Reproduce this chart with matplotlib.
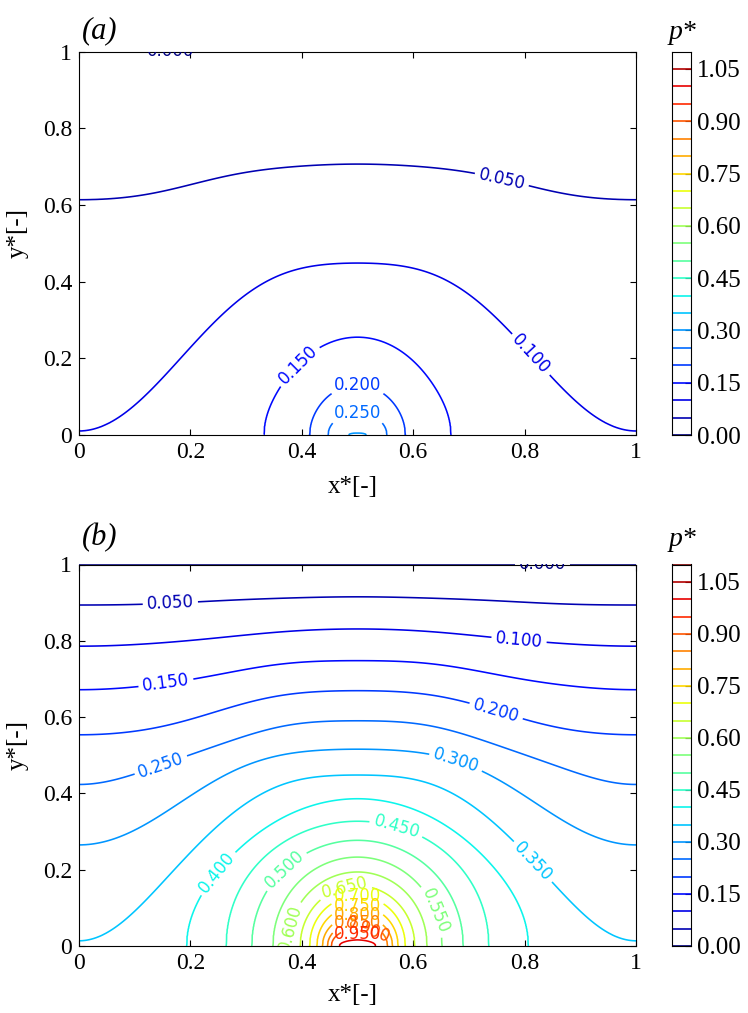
"""Dimensionless pressure p* contours for the two cases (a) and (b)."""

import matplotlib

matplotlib.use("Agg")

import matplotlib.pyplot as plt
import numpy as np
from matplotlib.colors import Normalize

SERIF = ["Liberation Serif", "DejaVu Serif"]

plt.rcParams["font.family"] = ["DejaVu Sans"]

# contour levels shared by both panels and both colour bars
levels = [round(0.05 * i, 2) for i in range(23)]
cbar_ticks = [0.0, 0.15, 0.30, 0.45, 0.60, 0.75, 0.90, 1.05]
axis_ticks = [0.0, 0.2, 0.4, 0.6, 0.8, 1.0]

# columns where the open contours were read (left half, fields are symmetric)
nodes_x = [0.0, 0.05, 0.10, 0.15, 0.20, 0.25, 0.30, 0.35, 0.40, 0.45, 0.50]

# ---- panel (a) ----
a_open_levels = [0.05, 0.10]
a_open_heights = [
    [0.614, 0.616, 0.621, 0.636, 0.654, 0.670, 0.684, 0.695, 0.702, 0.705, 0.706],
    [0.009, 0.030, 0.078, 0.148, 0.228, 0.305, 0.366, 0.410, 0.435, 0.446, 0.448],
]
# closed rings around the source at (0.5, 0): bottom half width, 45 deg radius, top
a_ring_levels = [0.15, 0.20, 0.25, 0.30]
a_ring_halfwidth = [0.168, 0.086, 0.053, 0.016]
a_ring_diag = [0.190, 0.100, 0.055, 0.007]
a_ring_height = [0.255, 0.130, 0.058, 0.005]
a_peak = 0.305
a_corner = 0.101
a_label_levels = [0.0, 0.05, 0.10, 0.15, 0.20, 0.25]
a_label_xy = [(0.165, 1.0), (0.758, 0.66), (0.814, 0.213), (0.39, 0.187),
              (0.5, 0.13), (0.5, 0.055)]

# ---- panel (b) ----
b_open_levels = [0.05, 0.10, 0.15, 0.20, 0.25, 0.30, 0.35]
b_open_heights = [
    [0.894, 0.894, 0.895, 0.898, 0.901, 0.905, 0.908, 0.911, 0.913, 0.915, 0.915],
    [0.786, 0.787, 0.790, 0.795, 0.801, 0.808, 0.815, 0.822, 0.827, 0.830, 0.831],
    [0.672, 0.674, 0.678, 0.688, 0.699, 0.711, 0.725, 0.737, 0.744, 0.747, 0.748],
    [0.554, 0.556, 0.562, 0.576, 0.595, 0.616, 0.636, 0.654, 0.664, 0.668, 0.669],
    [0.423, 0.431, 0.452, 0.476, 0.500, 0.527, 0.552, 0.571, 0.583, 0.589, 0.591],
    [0.266, 0.275, 0.302, 0.347, 0.395, 0.437, 0.473, 0.497, 0.509, 0.514, 0.516],
    [0.011, 0.037, 0.093, 0.166, 0.243, 0.317, 0.375, 0.414, 0.436, 0.446, 0.449],
]
b_ring_levels = [0.40, 0.45, 0.50, 0.55, 0.60, 0.65, 0.70, 0.75, 0.80, 0.85, 0.90, 0.95, 1.00]
b_ring_halfwidth = [0.307, 0.236, 0.190, 0.152, 0.125, 0.103, 0.086, 0.073, 0.063,
                    0.054, 0.047, 0.040, 0.033]
b_ring_diag = [0.325, 0.272, 0.222, 0.180, 0.149, 0.122, 0.102, 0.085, 0.070,
               0.057, 0.046, 0.035, 0.020]
b_ring_height = [0.386, 0.327, 0.277, 0.233, 0.194, 0.158, 0.131, 0.105, 0.080,
                 0.061, 0.045, 0.031, 0.016]
b_peak = 1.03
b_corner = 0.352
b_label_levels = [0.0, 0.05, 0.10, 0.15, 0.20, 0.25, 0.30, 0.35, 0.40, 0.45,
                  0.50, 0.55, 0.60, 0.65, 0.70, 0.75, 0.80, 0.85, 0.90, 0.95]
b_label_xy = [(0.832, 1.0), (0.164, 0.90), (0.79, 0.805), (0.156, 0.693),
              (0.749, 0.617), (0.149, 0.466), (0.673, 0.466), (0.816, 0.222),
              (0.252, 0.187), (0.57, 0.312), (0.371, 0.196), (0.637, 0.091),
              (0.381, 0.048), (0.477, 0.152), (0.5, 0.128), (0.5, 0.103),
              (0.5, 0.078), (0.5, 0.06), (0.52, 0.045), (0.5, 0.03)]

grid_x = np.linspace(0.0, 1.0, 1001)
grid_y = np.linspace(0.0, 1.01, 1516)

cmap = plt.get_cmap("jet")
norm = Normalize(vmin=0.0, vmax=1.1)


def _open_heights(heights):
    """Smooth even cosine fit through the read heights (zero slope at walls)."""
    n = np.arange(5)
    basis = np.cos(2 * np.pi * np.outer(nodes_x, n))
    coef = np.linalg.lstsq(basis, np.asarray(heights), rcond=None)[0]
    return np.cos(2 * np.pi * np.outer(grid_x, n)) @ coef


def _ring_profile(halfwidth, diag, height):
    theta = np.linspace(0.0, np.pi / 2, 800)
    s = np.sin(theta) ** 2
    inv = ((1 - 2 * s) * (1 - s) / halfwidth ** 2
           + 4 * s * (1 - s) / diag ** 2
           + s * (2 * s - 1) / height ** 2)
    r = 1.0 / np.sqrt(inv)
    return (r * np.cos(theta))[::-1], (r * np.sin(theta))[::-1]


def _build_field(open_levels, open_heights, ring_levels, ring_b, ring_d, ring_h,
                 peak, corner):
    dx = np.abs(grid_x - 0.5)
    open_y = [np.clip(_open_heights(h), 0.002, 0.995) for h in open_heights]
    rings = [_ring_profile(b, d, h) for b, d, h in zip(ring_b, ring_d, ring_h)]
    bottom = np.interp(dx, [0.0, *ring_b[::-1], 0.5],
                       [peak, *ring_levels[::-1], corner])

    field = np.empty((grid_y.size, grid_x.size))
    for j in range(grid_x.size):
        ys, ps = [0.0], [bottom[j]]
        for k in range(len(ring_levels) - 1, -1, -1):
            if dx[j] < ring_b[k]:
                half, top = rings[k]
                ys.append(np.interp(dx[j], half, top))
                ps.append(ring_levels[k])
        for k in range(len(open_levels) - 1, -1, -1):
            ys.append(open_y[k][j])
            ps.append(open_levels[k])
        ys += [1.0, 1.01]
        ps += [0.0, -0.01]
        ys = np.maximum.accumulate(np.array(ys)) + np.arange(len(ys)) * 1e-9
        field[:, j] = np.interp(grid_y, ys, ps)
    return field


def _label_contours(ax, cs, label_levels, label_xy):
    # snap every read label position onto its own contour before labelling
    for lev, xy in zip(label_levels, label_xy):
        idx = int(np.argmin(np.abs(np.asarray(cs.levels) - lev)))
        verts = cs.get_paths()[idx].vertices
        if len(verts) == 0:
            continue
        dist = np.hypot((verts[:, 0] - xy[0]) * 557, (verts[:, 1] - xy[1]) * 383)
        snap = verts[int(np.argmin(dist))]
        ax.clabel(cs, manual=[(snap[0], snap[1])], fmt="%1.3f",
                  fontsize=12, inline=True, inline_spacing=4)


def _draw_panel(fig, rect, cbar_rect, field, tag, tag_xy, label_levels, label_xy,
                xlabel_y):
    ax = fig.add_axes(rect)
    cs = ax.contour(grid_x, grid_y, field, levels=levels, cmap=cmap, norm=norm,
                    linewidths=1.15)
    _label_contours(ax, cs, label_levels, label_xy)

    ax.set_xlim(0, 1)
    ax.set_ylim(0, 1)
    ax.set_xticks(axis_ticks, labels=[f"{t:g}" for t in axis_ticks],
                  fontfamily=SERIF, fontsize=17)
    ax.set_yticks(axis_ticks, labels=[f"{t:g}" for t in axis_ticks],
                  fontfamily=SERIF, fontsize=17)
    ax.tick_params(direction="in", top=True, right=True, length=4, width=0.8,
                   pad=5)
    ax.set_xlabel("x*[-]", fontfamily=SERIF, fontsize=18, va="center")
    ax.set_ylabel("y*[-]", fontfamily=SERIF, fontsize=18, va="center")
    ax.xaxis.set_label_coords(0.492, xlabel_y)
    ax.yaxis.set_label_coords(-0.11, 0.527)

    cax = fig.add_axes(cbar_rect)
    cax.hlines(levels, 0, 1, colors=cmap(norm(np.array(levels))), linewidth=1.2)
    cax.set_xlim(0, 1)
    cax.set_ylim(0, 1.1)
    cax.set_xticks([])
    cax.yaxis.tick_right()
    cax.set_yticks(cbar_ticks, labels=[f"{t:.2f}" for t in cbar_ticks],
                   fontfamily=SERIF, fontsize=18)
    cax.tick_params(axis="y", direction="in", length=4, width=0.8, pad=4)

    fig.text(tag_xy[0], tag_xy[1], tag, fontfamily=SERIF, fontstyle="italic",
             fontsize=22, ha="center", va="center")
    fig.text(0.913, tag_xy[1] - 0.001, "p*", fontfamily=SERIF,
             fontstyle="italic", fontsize=20, ha="center", va="center")


W, H = 748, 1013
fig = plt.figure(figsize=(W / 100, H / 100), dpi=100)

field_a = _build_field(a_open_levels, a_open_heights, a_ring_levels,
                       a_ring_halfwidth, a_ring_diag, a_ring_height,
                       a_peak, a_corner)
field_b = _build_field(b_open_levels, b_open_heights, b_ring_levels,
                       b_ring_halfwidth, b_ring_diag, b_ring_height,
                       b_peak, b_corner)

_draw_panel(fig,
            [79 / W, 1 - 435 / H, 557 / W, 383.5 / H],
            [672 / W, 1 - 435 / H, 19 / W, 383.5 / H],
            field_a, "(a)", (100 / W, 1 - 31 / H),
            a_label_levels, a_label_xy, -0.136)
_draw_panel(fig,
            [79 / W, 1 - 946 / H, 557 / W, 381.5 / H],
            [672 / W, 1 - 946 / H, 19 / W, 381.5 / H],
            field_b, "(b)", (100 / W, 1 - 538 / H),
            b_label_levels, b_label_xy, -0.128)

fig.savefig("out.png", dpi=100)
